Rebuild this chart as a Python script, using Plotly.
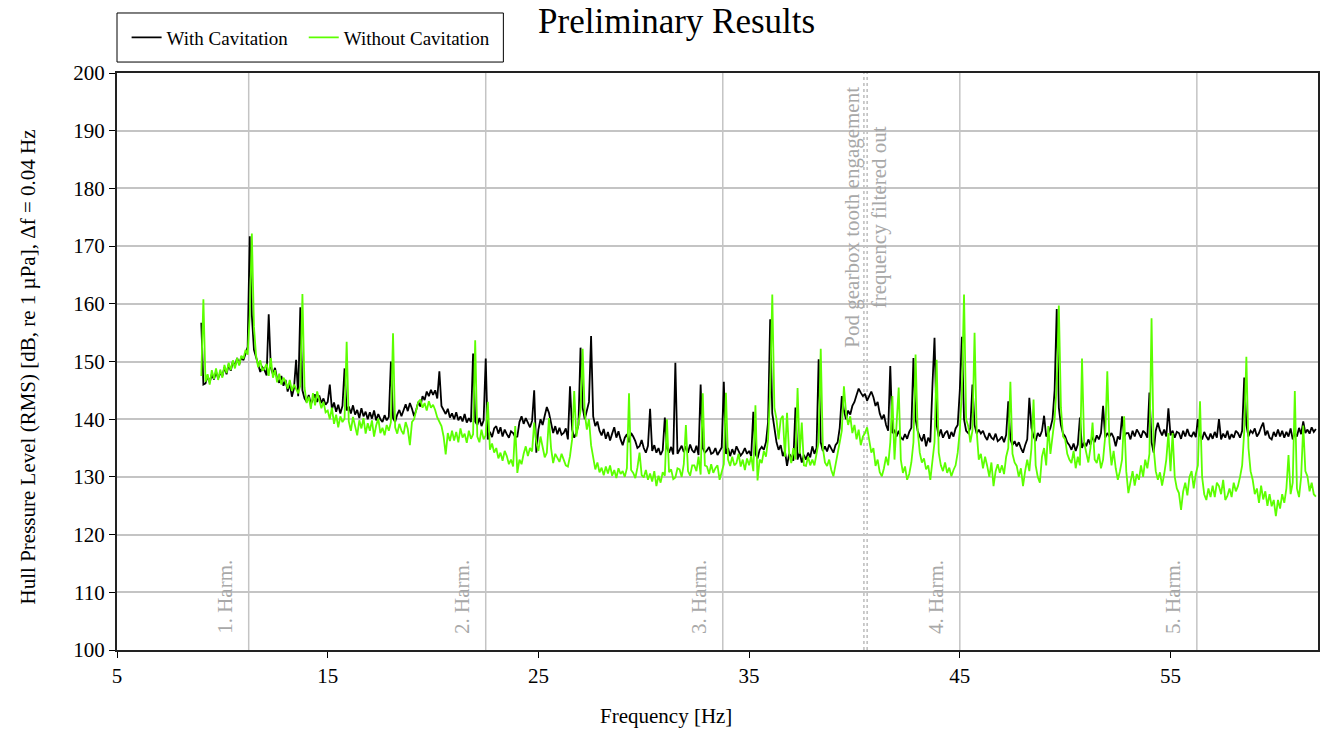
import numpy as np
import plotly.graph_objects as go

# Spectrum bins: 0.1 Hz spacing from 9.0 Hz to 61.9 Hz
freq = np.round(np.arange(9.0, 61.95, 0.1), 1)

# Hull pressure level with cavitation [dB re 1 uPa], one row per Hz (x.0 ... x.9)
level_with = [
    156.7, 146.0, 146.2, 147.5, 146.4, 147.8, 146.9, 148.2, 147.1, 148.0,  # 9
    147.5, 149.0, 147.8, 149.5, 148.4, 150.0, 149.2, 150.6, 149.5, 150.8,  # 10
    150.2, 151.5, 152.5, 171.7, 158.0, 152.0, 150.5, 149.5, 148.2, 149.0,  # 11
    148.5, 147.6, 158.2, 149.0, 147.8, 148.9, 147.0, 146.3, 147.5, 145.8,  # 12
    146.8, 144.8, 146.2, 143.9, 145.4, 150.3, 144.0, 159.4, 145.0, 143.6,  # 13
    143.0, 144.2, 142.6, 143.5, 144.3, 143.0, 144.1, 142.8, 143.6, 142.5,  # 14
    143.0, 146.0, 141.7, 142.9, 141.3, 142.5, 141.0, 142.3, 148.8, 141.5,  # 15
    142.2, 141.0, 142.4, 140.8, 141.6, 140.2, 141.9, 140.5, 141.3, 140.0,  # 16
    141.2, 140.1, 141.5, 139.8, 140.9, 140.0, 139.5, 140.7, 139.8, 140.4,  # 17
    150.0, 140.2, 139.5, 140.8, 141.6, 140.5, 141.7, 142.6, 141.4, 142.8,  # 18
    141.8, 140.5, 141.6, 143.0, 142.2, 144.0, 143.3, 144.8, 144.0, 145.1,  # 19
    144.2, 145.0, 143.6, 148.3, 142.3, 141.6, 140.9, 141.8, 140.3, 141.0,  # 20
    140.0, 141.2, 139.8, 140.5, 139.6, 140.9, 139.4, 140.2, 139.5, 151.4,  # 21
    139.6, 139.0, 140.2, 138.8, 139.8, 150.5, 136.5, 137.8, 136.9, 138.4,  # 22
    138.8, 137.5, 138.6, 137.0, 138.2, 137.4, 136.8, 137.9, 137.6, 136.9,  # 23
    137.0, 139.5, 140.5, 139.2, 140.2, 139.4, 138.6, 139.7, 145.0, 134.2,  # 24
    138.2, 140.0, 139.0, 140.6, 142.1, 141.1, 139.5, 137.6, 138.8, 137.4,  # 25
    138.5, 137.3, 137.6, 138.4, 136.5, 145.7, 138.2, 136.8, 137.6, 139.0,  # 26
    152.4, 142.0, 140.0, 141.5, 143.0, 154.4, 140.5, 138.8, 139.6, 138.0,  # 27
    137.2, 138.3, 136.6, 137.8, 136.3, 137.5, 138.6, 136.8, 137.9, 136.5,  # 28
    135.5, 136.8, 137.4, 136.0, 137.6, 137.0, 136.2, 135.0, 135.3, 136.4,  # 29
    135.0, 134.2, 135.4, 141.8, 134.5, 135.5, 134.2, 135.0, 133.8, 134.6,  # 30
    140.3, 135.0, 134.2, 135.2, 133.9, 149.8, 134.0, 134.7, 135.4, 134.3,  # 31
    135.3, 134.2, 135.6, 134.6, 134.2, 135.4, 133.8, 146.0, 135.0, 134.2,  # 32
    134.6, 135.2, 134.0, 134.2, 135.0, 133.8, 134.5, 135.1, 146.5, 134.0,  # 33
    135.0, 133.6, 134.8, 133.9, 135.3, 134.6, 133.7, 134.2, 135.0, 134.0,  # 34
    134.5, 133.6, 141.3, 134.0, 133.2, 134.7, 135.2, 134.7, 136.0, 139.5,  # 35
    157.3, 141.0, 138.2, 136.0, 134.7, 135.5, 133.6, 134.5, 131.9, 134.0,  # 36
    133.5, 132.8, 142.0, 133.0, 134.2, 132.5, 133.8, 133.0, 134.2, 133.4,  # 37
    135.3, 134.0, 135.0, 150.4, 136.0, 134.5, 135.3, 134.4, 135.6, 134.8,  # 38
    134.2, 135.5, 136.0, 138.5, 144.0, 141.5, 140.0, 141.5, 140.8, 142.3,  # 39
    143.0, 144.2, 145.3, 144.6, 144.0, 144.4, 143.2, 144.0, 144.8, 143.8,  # 40
    142.3, 143.0, 141.0, 140.0, 140.8, 139.0, 138.0, 149.2, 137.6, 138.0,  # 41
    137.0, 138.0, 136.8, 136.5, 137.4, 136.6, 137.8, 138.5, 150.6, 140.0,  # 42
    138.0, 137.0, 136.2, 137.4, 135.3, 136.8, 136.0, 145.7, 154.1, 139.0,  # 43
    137.0, 138.2, 136.8, 137.6, 138.0, 136.6, 137.8, 137.0, 138.4, 139.0,  # 44
    145.0, 154.3, 140.0, 138.0, 137.6, 138.5, 146.0, 139.0, 137.5, 138.2,  # 45
    137.5, 138.0, 137.0, 136.4, 137.6, 136.8, 136.5, 137.5, 136.2, 136.5,  # 46
    137.0, 136.0, 137.3, 143.1, 136.5, 135.5, 136.2, 135.3, 136.0, 135.0,  # 47
    134.2, 135.5, 136.5, 143.7, 138.5, 137.0, 136.2, 137.6, 137.0, 138.0,  # 48
    140.6, 137.0, 137.6, 138.5, 140.0, 145.0, 159.1, 142.0, 139.0, 137.5,  # 49
    137.0, 136.0, 135.5, 134.7, 135.8, 134.5, 135.6, 140.3, 135.0, 136.0,  # 50
    135.3, 136.5, 135.6, 137.0, 136.0, 137.2, 136.5, 137.6, 142.3, 136.8,  # 51
    137.6, 137.0, 137.6, 136.8, 135.3, 137.0, 136.5, 140.5, 137.0, 137.6,  # 52
    137.6, 136.5, 138.0, 137.0, 138.2, 137.6, 136.8, 138.0, 137.6, 136.8,  # 53
    144.6, 136.0, 134.2, 138.0, 139.4, 138.0, 137.2, 138.2, 137.0, 141.9,  # 54
    137.2, 138.0, 136.8, 137.8, 137.6, 136.6, 138.0, 137.0, 138.3, 137.2,  # 55
    137.0, 137.8, 136.9, 140.0, 137.2, 136.5, 137.8, 137.0, 136.4, 137.5,  # 56
    136.6, 137.8, 136.8, 140.0, 136.5, 137.5, 136.8, 138.0, 136.5, 137.4,  # 57
    136.8, 138.0, 137.6, 136.8, 138.0, 147.2, 139.0, 137.0, 138.0, 137.6,  # 58
    138.4, 137.0, 137.6, 138.6, 139.4, 137.2, 138.0, 136.8, 136.5, 137.8,  # 59
    137.0, 138.2, 137.0, 138.0, 136.8, 137.8, 137.0, 138.4, 136.5, 137.6,  # 60
    137.0, 138.5, 137.4, 139.6, 137.6, 138.2, 137.5, 138.6, 137.8, 138.3,  # 61
]

# Hull pressure level without cavitation [dB re 1 uPa]
level_without = [
    147.5, 160.8, 146.5, 147.8, 146.0, 148.5, 147.0, 148.8, 146.8, 148.6,  # 9
    147.2, 149.4, 148.0, 149.8, 148.5, 150.2, 148.8, 150.6, 149.3, 151.0,  # 10
    150.5, 152.0, 151.2, 158.0, 172.2, 156.0, 151.0, 149.0, 150.2, 148.4,  # 11
    148.8, 149.6, 147.5, 150.6, 147.2, 148.5, 146.4, 147.9, 146.0, 147.2,  # 12
    146.5, 145.3, 146.8, 144.9, 146.0, 145.2, 144.5, 145.8, 161.7, 145.5,  # 13
    142.8, 143.9, 141.8, 144.5, 142.4, 144.8, 143.2, 141.9, 143.0, 141.2,  # 14
    141.5, 140.0, 142.0, 139.2, 140.8, 138.6, 140.5, 139.5, 140.1, 153.4,  # 15
    139.6, 138.0, 140.4, 139.0, 137.2, 139.8, 138.4, 140.2, 137.5, 139.3,  # 16
    138.0, 139.8, 137.0, 138.9, 140.1, 137.6, 138.5, 137.2, 139.0, 138.0,  # 17
    139.5, 154.9, 138.6, 137.5, 139.2, 138.0, 137.4, 139.5, 138.3, 135.5,  # 18
    139.5, 140.0, 141.5, 143.0, 143.4, 142.0, 142.8, 141.5, 143.1, 142.0,  # 19
    142.5, 141.6, 140.3, 139.6, 138.8, 137.0, 133.9, 137.6, 136.2, 138.0,  # 20
    136.3, 137.8, 136.0, 138.4, 136.8, 137.5, 135.9, 138.0, 136.6, 137.4,  # 21
    153.7, 137.0, 136.0, 138.2, 136.5, 137.2, 143.0, 134.7, 135.8, 134.2,  # 22
    135.0, 133.2, 134.2, 132.8, 134.5, 133.6, 132.2, 133.0, 131.8, 138.8,  # 23
    130.7, 133.0, 132.2, 134.0, 135.3, 133.6, 135.0, 134.4, 139.4, 136.0,  # 24
    134.5, 137.0, 135.2, 133.4, 134.2, 140.2, 135.0, 132.4, 134.0, 133.2,  # 25
    132.6, 134.0, 133.0, 132.0, 131.8, 133.6, 136.5, 144.9, 137.0, 139.0,  # 26
    141.5, 152.2, 141.0, 138.2, 140.0, 135.5, 133.0, 131.3, 132.5, 130.8,  # 27
    131.6, 130.3, 131.8, 130.6, 132.0, 130.2, 131.2, 129.8, 131.5, 130.5,  # 28
    131.0, 130.0, 131.5, 144.5, 131.2, 130.7, 129.8, 131.6, 134.2, 130.3,  # 29
    129.9, 131.2, 129.5, 130.6, 129.2, 131.0, 128.4, 130.2, 129.0, 130.8,  # 30
    130.2, 140.0, 130.8, 131.3, 129.6, 129.9, 131.5, 131.3, 130.0, 132.2,  # 31
    139.0, 131.0, 130.2, 132.0, 132.0, 131.0, 133.5, 130.4, 144.5, 132.0,  # 32
    131.8, 130.5, 132.2, 130.7, 131.5, 132.0, 129.5, 131.0, 132.2, 144.6,  # 33
    133.0, 131.9, 133.5, 132.0, 132.4, 134.0, 131.8, 133.0, 131.2, 133.2,  # 34
    132.0, 133.6, 131.0, 142.4, 129.4, 133.0, 132.4, 134.5, 133.5, 136.5,  # 35
    145.0, 161.6, 142.0, 140.0, 136.5, 140.0, 140.6, 133.5, 141.1, 134.0,  # 36
    132.4, 135.0, 133.0, 145.4, 134.0, 139.4, 132.0, 131.9, 133.5, 132.0,  # 37
    133.0, 132.0, 134.0, 136.0, 152.2, 135.0, 132.5, 131.9, 133.0, 131.2,  # 38
    130.1, 132.0, 133.5, 136.0, 138.0, 145.7, 141.1, 139.0, 140.5, 137.6,  # 39
    139.0, 136.5, 138.2, 135.5, 137.0, 137.6, 138.6, 136.0, 134.2, 135.0,  # 40
    131.9, 133.0, 130.8, 130.1, 131.5, 133.5, 132.0, 136.0, 144.0, 133.0,  # 41
    138.8, 145.5, 133.0, 130.7, 131.8, 129.5, 130.5, 132.5, 136.0, 151.2,  # 42
    138.0, 134.2, 132.5, 133.2, 131.3, 132.0, 129.5, 133.0, 136.0, 150.3,  # 43
    134.2, 132.0, 131.0, 132.5, 130.7, 131.6, 130.1, 131.2, 132.0, 134.2,  # 44
    138.0, 145.0, 161.6, 140.0, 138.8, 136.0, 138.0, 155.0, 138.0, 133.0,  # 45
    134.0, 131.5, 133.5, 131.9, 130.0, 132.5, 128.4, 131.0, 132.2, 130.7,  # 46
    132.0, 130.5, 133.5, 135.0, 146.5, 134.0, 132.5, 131.9, 130.0, 131.5,  # 47
    128.4, 131.0, 133.0, 131.0, 135.0, 143.4, 132.0, 130.0, 129.0, 133.5,  # 48
    135.0, 132.0, 138.8, 134.0, 137.0, 140.0, 146.0, 159.7, 142.0, 137.0,  # 49
    136.5, 134.0, 133.0, 132.4, 134.5, 131.5, 133.5, 132.0, 150.5, 136.0,  # 50
    134.2, 132.5, 135.0, 139.4, 133.0, 132.4, 134.0, 131.5, 133.0, 137.0,  # 51
    148.3, 136.0, 132.0, 134.5, 131.5, 129.5, 131.0, 133.0, 140.5, 131.0,  # 52
    127.2, 129.5, 131.0, 128.5, 130.5, 129.5, 132.0, 130.0, 133.0, 131.5,  # 53
    134.0, 157.5, 135.0, 131.0, 129.5, 130.8, 128.5, 130.5, 133.0, 137.6,  # 54
    131.0, 137.6, 130.0, 128.0, 127.2, 124.3, 127.5, 129.0, 126.8, 130.0,  # 55
    131.0, 128.0, 130.5, 132.0, 143.1, 130.0, 127.0, 126.0, 128.0, 126.5,  # 56
    128.5, 126.5, 129.0, 128.4, 127.0, 129.5, 126.0, 126.7, 128.0, 126.5,  # 57
    129.0, 127.5, 128.4, 130.0, 132.0, 138.0, 150.8, 135.0, 131.0, 129.5,  # 58
    127.0, 128.0, 125.5, 128.5, 126.1, 127.5, 125.0, 127.0, 124.9, 126.0,  # 59
    123.2, 126.0, 124.5, 127.0, 125.5, 128.0, 133.8, 127.0, 129.0, 144.9,  # 60
    128.0, 126.5, 130.0, 138.9, 131.0, 130.1, 127.5, 129.0, 127.0, 126.6,  # 61
]

# Propeller blade-rate harmonics and the filtered-out gearbox frequency band
harmonic_freqs = [11.25, 22.5, 33.75, 45.0, 56.25]
harmonic_labels = ["1. Harm.", "2. Harm.", "3. Harm.", "4. Harm.", "5. Harm."]
gearbox_freqs = [40.45, 40.6]
gearbox_label = "Pod gearbox tooth engagement<br>frequency filtered out"

x_ticks = [5, 15, 25, 35, 45, 55]
y_ticks = [100, 110, 120, 130, 140, 150, 160, 170, 180, 190, 200]

SERIF = "Liberation Serif, Times New Roman, serif"
GREY_TEXT = "#a8a8a8"

fig = go.Figure()
fig.add_trace(go.Scatter(x=freq, y=level_with, mode="lines", name="With Cavitation",
                         line=dict(color="#000000", width=1.8), legend="legend"))
fig.add_trace(go.Scatter(x=freq, y=level_without, mode="lines", name="Without Cavitation",
                         line=dict(color="#5cff00", width=1.8), legend="legend2"))

shapes = []
for f in harmonic_freqs:
    shapes.append(dict(type="line", xref="x", yref="paper", x0=f, x1=f, y0=0, y1=1,
                       line=dict(color="#c4c4c4", width=1.5), layer="below"))
for f in gearbox_freqs:
    shapes.append(dict(type="line", xref="x", yref="paper", x0=f, x1=f, y0=0, y1=1,
                       line=dict(color="#9a9a9a", width=1, dash="dot"), layer="below"))
# legend frame
shapes.append(dict(type="rect", xref="paper", yref="paper", x0=0.0, x1=0.3217,
                   y0=1.019, y1=1.104, line=dict(color="black", width=1),
                   fillcolor="white", layer="above"))

annotations = []
for f, lab in zip(harmonic_freqs, harmonic_labels):
    annotations.append(dict(x=f, y=102.4, xref="x", yref="y", text=lab, textangle=-90,
                            showarrow=False, xanchor="right", yanchor="bottom", xshift=-10,
                            font=dict(family=SERIF, size=21, color=GREY_TEXT)))
annotations.append(dict(x=40.52, y=175.0, xref="x", yref="y", text=gearbox_label, textangle=-90,
                        showarrow=False, xanchor="center", yanchor="middle",
                        font=dict(family=SERIF, size=21, color=GREY_TEXT)))
annotations.append(dict(x=0.457, y=-0.115, xref="paper", yref="paper", text="Frequency [Hz]",
                        showarrow=False, xanchor="center", yanchor="middle",
                        font=dict(family=SERIF, size=21, color="black")))
annotations.append(dict(x=-0.074, y=0.49, xref="paper", yref="paper",
                        text="Hull Pressure Level (RMS) [dB, re 1 µPa], Δf = 0.04 Hz",
                        textangle=-90, showarrow=False, xanchor="center", yanchor="middle",
                        font=dict(family=SERIF, size=21, color="black")))

legend_style = dict(orientation="h", xanchor="left", y=1.0615, yanchor="middle",
                    borderwidth=0, bgcolor="rgba(0,0,0,0)",
                    font=dict(family=SERIF, size=19, color="black"),
                    itemwidth=30, tracegroupgap=0)

fig.update_layout(
    width=1332, height=731,
    margin=dict(l=117, r=12, t=73, b=81),
    paper_bgcolor="white", plot_bgcolor="white",
    font=dict(family=SERIF, size=21, color="black"),
    title=dict(text="Preliminary Results", x=0.508, xanchor="center",
               yref="container", y=0.972, yanchor="middle",
               font=dict(family=SERIF, size=35, color="black")),
    showlegend=True,
    legend=dict(x=0.008, **legend_style),
    legend2=dict(x=0.1555, **legend_style),
    shapes=shapes,
    annotations=annotations,
    xaxis=dict(range=[5, 62], tickvals=x_ticks, ticks="outside", ticklen=6,
               tickcolor="black", showgrid=False, zeroline=False,
               showline=True, linecolor="#222222", linewidth=2, mirror=True,
               tickfont=dict(family=SERIF, size=21)),
    yaxis=dict(range=[100, 200], tickvals=y_ticks, ticks="outside", ticklen=6,
               tickcolor="black", showgrid=True, gridcolor="#c4c4c4", gridwidth=1.5,
               zeroline=False, showline=True, linecolor="#222222", linewidth=2, mirror=True,
               tickfont=dict(family=SERIF, size=21)),
)

fig.write_html("out.html")
